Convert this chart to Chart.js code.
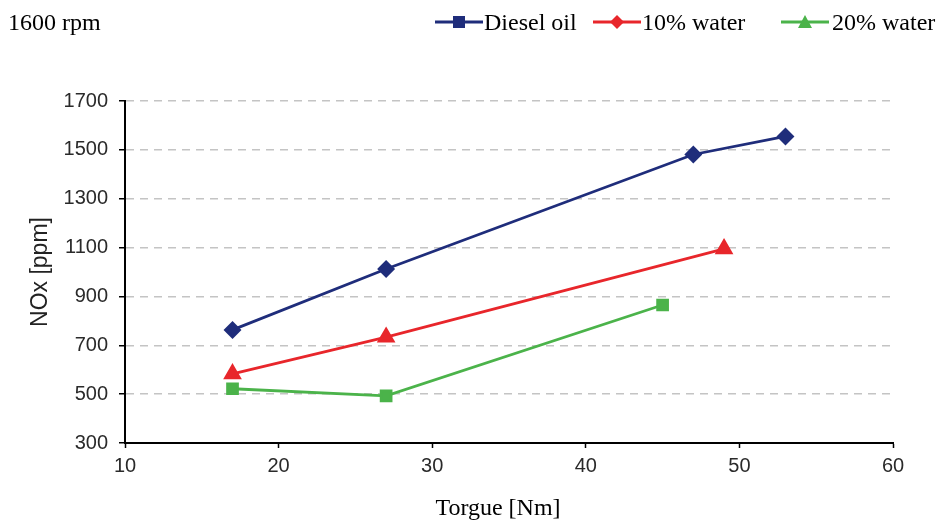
<!DOCTYPE html>
<html>
<head>
<meta charset="utf-8">
<script src="https://cdn.jsdelivr.net/npm/chart.js@4/dist/chart.umd.min.js"></script>
<style>
  html, body { margin: 0; padding: 0; background: #fff; }
  #wrap { position: relative; width: 941px; height: 522px; }
  #c { position: absolute; left: 0; top: 0; }
  .lbl { position: absolute; font-family: "Liberation Serif", "Times New Roman", serif; font-size: 24px; color: #000; white-space: nowrap; line-height: 1; }
  .ico { position: absolute; }
</style>
</head>
<body>
<div id="wrap">
  <canvas id="c" width="941" height="522"></canvas>
  <div class="lbl" style="left:8px; top:10px;">1600 rpm</div>
  <svg class="ico" style="left:435px; top:12px;" width="48" height="20"><line x1="0" y1="10" x2="48" y2="10" stroke="#1f2d7b" stroke-width="3"/><rect x="18" y="4" width="12" height="12" fill="#1f2d7b"/></svg>
  <div class="lbl" style="left:484px; top:10px;">Diesel oil</div>
  <svg class="ico" style="left:593px; top:12px;" width="48" height="20"><line x1="0" y1="10" x2="48" y2="10" stroke="#e8262b" stroke-width="3"/><polygon points="24,3 31,10 24,17 17,10" fill="#e8262b"/></svg>
  <div class="lbl" style="left:642px; top:10px;">10% water</div>
  <svg class="ico" style="left:781px; top:12px;" width="48" height="20"><line x1="0" y1="10" x2="48" y2="10" stroke="#4bb34a" stroke-width="3"/><polygon points="24,3 31,16 17,16" fill="#4bb34a"/></svg>
  <div class="lbl" style="left:832px; top:10px;">20% water</div>
  <div class="lbl" style="left:498px; top:495px; transform: translateX(-50%);">Torgue [Nm]</div>
</div>
<script>
const xTicks = [10, 20, 30, 40, 50, 60];
const yTicks = [300, 500, 700, 900, 1100, 1300, 1500, 1700];

const dieselTorque = [17, 27, 47, 53];
const dieselNOx    = [763, 1012, 1481, 1555];

const water10Torque = [17, 27, 49];
const water10NOx    = [583, 733, 1095];

const water20Torque = [17, 27, 45];
const water20NOx    = [522, 493, 865];

const seriesNames = ['Diesel oil', '10% water', '20% water'];

function pts(xs, ys) { return xs.map((x, i) => ({ x: x, y: ys[i] })); }

const sansTick = { family: '"Liberation Sans", Arial, sans-serif', size: 20 };

new Chart(document.getElementById('c'), {
  type: 'line',
  data: {
    datasets: [
      { label: seriesNames[0], data: pts(dieselTorque, dieselNOx), borderColor: '#1f2d7b', backgroundColor: '#1f2d7b',
        borderWidth: 2.8, pointStyle: 'rectRot', pointRadius: 7, pointHoverRadius: 7 },
      { label: seriesNames[1], data: pts(water10Torque, water10NOx), borderColor: '#e8262b', backgroundColor: '#e8262b',
        borderWidth: 2.8, pointStyle: 'triangle', pointRadius: 8, pointHoverRadius: 8 },
      { label: seriesNames[2], data: pts(water20Torque, water20NOx), borderColor: '#4bb34a', backgroundColor: '#4bb34a',
        borderWidth: 2.8, pointStyle: 'rect', pointRadius: 7, pointHoverRadius: 7 }
    ]
  },
  options: {
    responsive: false,
    animation: false,
    layout: { padding: { left: 0, right: 48, top: 101, bottom: 0 } },
    plugins: { legend: { display: false }, tooltip: { enabled: false } },
    scales: {
      x: {
        type: 'linear', min: 10, max: 60,
        afterBuildTicks: s => { s.ticks = xTicks.map(v => ({ value: v })); },
        afterFit: s => { s.height = 79; },
        grid: { drawOnChartArea: false, tickLength: 5, tickColor: '#000', tickWidth: 1.5, color: '#000' },
        border: { color: '#000', width: 2 },
        ticks: { font: sansTick, color: '#2a2a2a', padding: 6, maxRotation: 0, callback: v => String(v) }
      },
      y: {
        type: 'linear', min: 300, max: 1700,
        afterBuildTicks: s => { s.ticks = yTicks.map(v => ({ value: v })); },
        afterFit: s => { s.width = 125; },
        grid: {
          color: ctx => (ctx.tick && ctx.tick.value === 300) ? 'rgba(0,0,0,0)' : '#c4c4c4',
          lineWidth: 1.5, tickLength: 6, tickColor: '#000', tickWidth: 1.5, tickBorderDash: []
        },
        border: { color: '#000', width: 2, dash: [8, 6] },
        ticks: { font: sansTick, color: '#2a2a2a', padding: 11, callback: v => String(v) },
        title: { display: true, text: 'NOx [ppm]', color: '#222',
          font: { family: '"Liberation Sans", Arial, sans-serif', size: 23 }, padding: { top: 27, bottom: 0 } }
      }
    }
  }
});
</script>
</body>
</html>
